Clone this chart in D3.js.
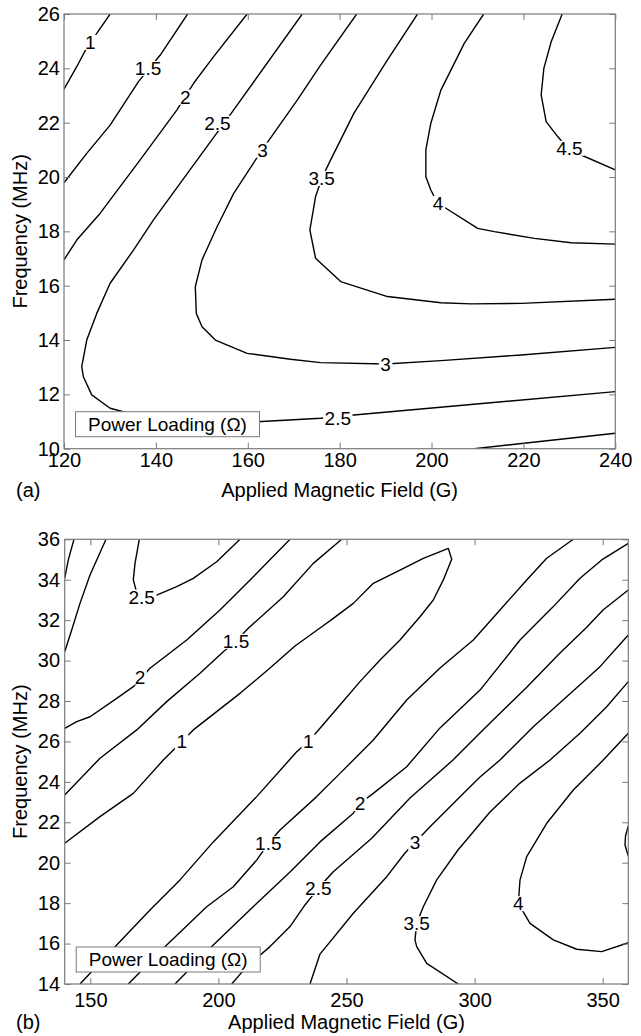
<!DOCTYPE html>
<html><head><meta charset="utf-8">
<script src="https://cdn.jsdelivr.net/npm/d3@7"></script>
<style>
body{margin:0;background:#fff}
svg text{font-family:"Liberation Sans",Arial,Helvetica,sans-serif;fill:#000}
</style>
</head><body>
<svg id="c" width="641" height="1036"></svg>
<script>
// ---------- Panel (a) data ----------
const aXDomain = [120, 240];
const aYDomain = [10, 26];
const aXTicks = [120, 140, 160, 180, 200, 220, 240];
const aYTicks = [10, 12, 14, 16, 18, 20, 22, 24, 26];

const a_c1  = [[120,23.23],[122.77,24.06],[125.08,24.80],[127.13,25.29],[130.04,26]];
const a_c15 = [[120,19.79],[124.95,20.87],[130.04,21.91],[136.21,23.51],[140.95,24.49],[146.90,26]];
const a_c2  = [[120,16.95],[122.77,17.68],[127.85,18.66],[136.58,20.63],[144.59,22.47],[148.21,23.45],[152.57,24.43],[159.86,26]];
const a_c25 = [[171.86,26],[156.94,22.47],[139.48,18.42],[135.12,17.31],[130.04,16.09],[127.13,14.98],[124.95,14.00],[123.86,13.02],[124.21,12.65],[126.04,11.98],[130.04,11.49],[133.68,11.33],[147.49,11.09],[162.04,10.99],[175.85,11.12],[183.12,11.24],[240,12.10]];
const a_c3  = [[183.71,26],[175.85,24.12],[170.77,22.83],[163.13,21.00],[156.94,19.40],[153.32,18.17],[150.04,16.95],[148.58,15.96],[148.80,14.98],[150.04,14.49],[152.95,14.00],[159.86,13.51],[169.31,13.29],[175.85,13.17],[190.04,13.12],[202.04,13.24],[219.49,13.45],[240,13.73]];
const a_c35 = [[196.95,26],[190.41,24.31],[183.12,22.35],[178.04,20.63],[176.22,19.99],[174.76,19.28],[173.52,18.05],[174.76,17.01],[180.22,16.15],[190.41,15.60],[202.04,15.37],[208.58,15.33],[219.49,15.35],[240,15.50]];
const a_c4  = [[211.35,26],[207.12,24.92],[202.04,23.20],[199.85,21.98],[198.76,21.0],[198.76,20.01],[199.85,19.52],[201.32,19.03],[203.13,18.85],[210.04,18.11],[213.67,17.99],[222.39,17.74],[230.40,17.58],[240,17.53]];
const a_c45 = [[228.44,26],[226.04,24.98],[224.45,24.00],[223.86,23.02],[224.95,22.04],[227.50,21.48],[229.68,21.06],[232.58,20.81],[240,20.26]];
const a_c2b = [[209.30,10],[240,10.57]];
const aLabels = [[125.7,24.97,"1"],[138.3,24.01,"1.5"],[146.4,22.95,"2"],[153.4,21.99,"2.5"],[163.2,21.0,"3"],[176.1,19.96,"3.5"],[201.4,19.04,"4"],[230.0,21.07,"4.5"],[190.0,13.12,"3"],[179.6,11.13,"2.5"]];

// ---------- Panel (b) data ----------
const bXDomain = [140, 360];
const bYDomain = [14, 36];
const bXTicks = [150, 200, 250, 300, 350];
const bYTicks = [14, 16, 18, 20, 22, 24, 26, 28, 30, 32, 34, 36];

const b_c3a  = [[140,34.07],[141.41,34.98],[143.63,36]];
const b_c25a = [[140,30.44],[142.73,31.51],[145.97,32.83],[149.88,34.23],[156.12,36]];
const b_c25u = [[169.12,36],[167.44,34.81],[166.78,33.99],[167.83,33.49],[170.06,33.16],[175.91,33.24],[183.72,33.66],[190.20,34.07],[199.33,34.89],[208.43,36]];
const b_c2a  = [[140,26.65],[144.68,26.98],[149.88,27.22],[160.30,28.13],[166.78,28.71],[173.30,29.62],[187.62,31.02],[200.62,32.50],[213.62,34.15],[227.95,36]];
const b_c15a = [[140,23.35],[153.78,25.17],[168.11,26.57],[179.82,27.97],[192.82,29.37],[201.91,30.44],[206.87,30.97],[211.67,31.60],[225.33,33.16],[237.04,34.81],[248.13,36]];
const b_c1   = [[140,20.96],[153.78,22.28],[166.78,23.43],[178.49,25.08],[185.67,25.99],[190.20,26.57],[208.43,28.38],[220.14,29.63],[229.90,30.72],[239.66,31.61],[244.85,32.09],[252.66,32.83],[260.47,33.82],[270.88,34.48],[279.98,35.06],[289.74,35.55],[291.07,35.01],[287.79,33.99],[283.88,33.00],[278.69,32.17],[270.88,31.02],[263.08,30.03],[255.27,28.96],[247.46,27.80],[239.66,26.65],[235.09,25.99],[230.56,25.49],[214.95,23.27],[198.01,21.03],[185.01,19.15],[173.30,17.66],[160.30,15.93],[145.97,14]];
const b_c15b = [[164.83,14],[179.82,15.93],[195.43,17.82],[205.81,18.81],[214.95,20.13],[219.48,20.96],[224.05,21.62],[238.37,23.27],[247.46,24.42],[260.46,26.07],[273.50,28.05],[286.50,29.63],[299.50,31.02],[309.91,32.50],[320.34,33.99],[328.15,35.06],[338.53,36]];
const b_c2b  = [[183.06,14],[198.01,15.93],[214.28,17.91],[227.95,19.54],[239.66,21.03],[252.66,22.45],[255.27,22.94],[260.47,23.43],[273.50,24.75],[286.50,26.67],[302.12,28.54],[317.73,31.02],[330.73,32.67],[341.15,34.07],[349.62,34.98],[360,35.80]];
const b_c25b = [[205.19,14],[211.04,14.86],[220.14,15.85],[227.95,16.84],[233.80,17.91],[238.99,18.74],[244.73,19.54],[259.96,21.22],[274.79,23.20],[291.57,25.08],[304.06,26.67],[320.46,28.69],[333.34,30.38],[343.88,31.66],[350.13,32.50],[360,33.49]];
const b_c3b  = [[235.75,14],[239.66,15.48],[252.66,17.50],[265.70,19.31],[272.84,20.48],[276.74,21.00],[282.60,21.78],[295.60,23.43],[302.12,24.24],[309.91,25.08],[322.92,26.73],[335.95,28.21],[348.95,29.70],[360,31.27]];
const b_c35  = [[293.64,14],[281.31,15.02],[277.40,15.85],[276.74,16.18],[277.40,17.00],[279.98,17.82],[285.21,19.15],[293.52,20.63],[306.01,22.51],[317.73,23.94],[329.44,25.08],[341.15,26.40],[351.57,27.72],[360,28.96]];
const b_c4   = [[360,26.40],[350.24,25.08],[338.53,23.60],[328.15,21.95],[320.34,20.30],[317.73,19.15],[317.07,17.99],[321.63,17.00],[330.73,16.18],[339.87,15.72],[349.62,15.60],[360,16.04]];
const b_c45  = [[360,21.82],[358.91,21.32],[358.71,20.88],[360,20.33]];
const bLabels = [[170.06,33.16,"2.5"],[169.39,29.20,"2"],[206.87,30.97,"1.5"],[185.67,25.99,"1"],[235.09,25.99,"1"],[219.48,20.96,"1.5"],[255.27,22.94,"2"],[238.99,18.74,"2.5"],[276.74,21.00,"3"],[277.40,17.00,"3.5"],[317.07,17.99,"4"]];

const legendText = "Power Loading (\u03A9)";
const xTitle = "Applied Magnetic Field (G)";
const yTitle = "Frequency (MHz)";

// ---------- drawing ----------
const svg = d3.select("#c");
const GRAY = "#7a7a7a";

function drawPanel(cfg) {
  const g = svg.append("g");
  const x = d3.scaleLinear().domain(cfg.xDomain).range([cfg.left, cfg.right]);
  const y = d3.scaleLinear().domain(cfg.yDomain).range([cfg.bottom, cfg.top]);
  const w = cfg.right - cfg.left, h = cfg.bottom - cfg.top;

  g.append("clipPath").attr("id", cfg.id).append("rect")
    .attr("x", cfg.left).attr("y", cfg.top).attr("width", w).attr("height", h);

  const line = d3.line().x(d => x(d[0])).y(d => y(d[1]));
  const cg = g.append("g").attr("clip-path", `url(#${cfg.id})`);
  cfg.contours.forEach(c => {
    cg.append("path").attr("d", line(c)).attr("fill", "none")
      .attr("stroke", "#000").attr("stroke-width", 1.4).attr("stroke-linejoin", "round");
  });

  // contour labels with a gap cut in the line behind them
  const lg = g.append("g");
  cfg.labels.forEach(l => {
    const holder = lg.append("g");
    const t = holder.append("text").attr("x", x(l[0])).attr("y", y(l[1])).attr("dy", "0.36em")
      .attr("text-anchor", "middle").attr("font-size", 19).text(l[2]);
    const bb = t.node().getBBox();
    holder.insert("rect", "text")
      .attr("x", bb.x - 1.5).attr("y", bb.y + 3).attr("width", bb.width + 3).attr("height", bb.height - 6)
      .attr("fill", "#fff");
  });

  // legend box
  const lx = cfg.left + 11.5, lw = 184, lh = 25;
  const ly = cfg.bottom - 12 - lh;
  g.append("rect").attr("x", lx).attr("y", ly).attr("width", lw).attr("height", lh)
    .attr("fill", "#fff").attr("stroke", GRAY).attr("stroke-width", 1);
  g.append("text").attr("x", lx + lw / 2).attr("y", ly + lh - 5.7)
    .attr("text-anchor", "middle").attr("font-size", 19).text(legendText);

  // axes
  const styleAxis = sel => {
    sel.select(".domain").remove();
    sel.selectAll(".tick line").attr("stroke", GRAY);
    sel.selectAll(".tick text").attr("font-size", 20).attr("fill", "#000")
      .attr("font-family", "'Liberation Sans',Arial,sans-serif");
  };
  g.append("g").attr("transform", `translate(0,${cfg.bottom})`)
    .call(d3.axisBottom(x).tickValues(cfg.xTicks).tickSize(-6).tickSizeOuter(0).tickPadding(cfg.xPad).tickFormat(d3.format("d")))
    .call(styleAxis);
  g.append("g").attr("transform", `translate(0,${cfg.top})`)
    .call(d3.axisTop(x).tickValues(cfg.xTicks).tickSize(-6).tickSizeOuter(0).tickFormat(""))
    .call(styleAxis);
  g.append("g").attr("transform", `translate(${cfg.left},0)`)
    .call(d3.axisLeft(y).tickValues(cfg.yTicks).tickSize(-6).tickSizeOuter(0).tickPadding(cfg.yPad).tickFormat(d3.format("d")))
    .call(styleAxis);
  g.append("g").attr("transform", `translate(${cfg.right},0)`)
    .call(d3.axisRight(y).tickValues(cfg.yTicks).tickSize(-6).tickSizeOuter(0).tickFormat(""))
    .call(styleAxis);

  // frame
  g.append("rect").attr("x", cfg.left).attr("y", cfg.top).attr("width", w).attr("height", h)
    .attr("fill", "none").attr("stroke", GRAY).attr("stroke-width", 1.2);

  // titles
  g.append("text").attr("x", (cfg.left + cfg.right) / 2).attr("y", cfg.titleY)
    .attr("text-anchor", "middle").attr("font-size", 20).text(xTitle);
  g.append("text").attr("transform", `translate(27,${(cfg.top + cfg.bottom) / 2}) rotate(-90)`)
    .attr("text-anchor", "middle").attr("font-size", 20).text(yTitle);
  g.append("text").attr("x", 16).attr("y", cfg.titleY).attr("font-size", 20).text(cfg.tag);
}

drawPanel({
  id: "clipA", left: 64, right: 615.3, top: 14, bottom: 448.7,
  xDomain: aXDomain, yDomain: aYDomain, xTicks: aXTicks, yTicks: aYTicks,
  xPad: 4.5, yPad: 4, titleY: 497, tag: "(a)",
  contours: [a_c1, a_c15, a_c2, a_c25, a_c3, a_c35, a_c4, a_c45, a_c2b],
  labels: aLabels
});
drawPanel({
  id: "clipB", left: 64.7, right: 628.3, top: 539.3, bottom: 984,
  xDomain: bXDomain, yDomain: bYDomain, xTicks: bXTicks, yTicks: bYTicks,
  xPad: 8.5, yPad: 4.7, titleY: 1029, tag: "(b)",
  contours: [b_c3a, b_c25a, b_c25u, b_c2a, b_c15a, b_c1, b_c15b, b_c2b, b_c25b, b_c3b, b_c35, b_c4, b_c45],
  labels: bLabels
});
</script>
</body></html>
